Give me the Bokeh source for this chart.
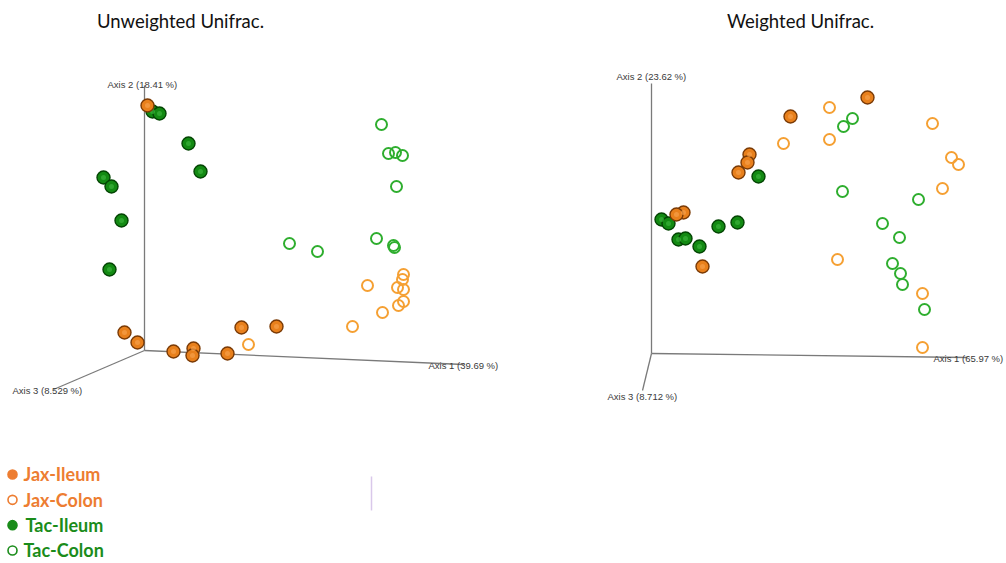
from bokeh.plotting import figure
from bokeh.models import Range1d, ColumnDataSource
from bokeh.layouts import column, row
from bokeh.core.properties import value
from bokeh.embed import file_html
from bokeh.resources import INLINE

# ---------------- data (projected PCoA coordinates, origin = axes origin) ----------------
GROUPS = ["Jax-Ileum", "Jax-Colon", "Tac-Ileum", "Tac-Colon"]

# Unweighted Unifrac
UNW_JAX_ILEUM_X = [3, -20, -7, 29, 49, 48, 83, 97, 132]
UNW_JAX_ILEUM_Y = [245, 18, 8, -1, 2, -5, -3, 23, 24]
UNW_TAC_ILEUM_X = [8, 15, 44, 56, -41, -33, -23, -35]
UNW_TAC_ILEUM_Y = [239, 237, 207, 179, 173, 164, 130, 81]
UNW_TAC_COLON_X = [237, 244, 251, 258, 252, 145, 173, 232, 249, 250]
UNW_TAC_COLON_Y = [226, 197, 198, 195, 164, 107, 99, 112, 105, 103]
UNW_JAX_COLON_X = [259, 258, 223, 253, 259, 259, 254, 238, 208, 104]
UNW_JAX_COLON_Y = [76, 71, 65, 63, 61, 49, 45, 38, 24, 6]
UNW_AXIS_LABELS = ["Axis 1 (39.69 %)", "Axis 2 (18.41 %)", "Axis 3 (8.529 %)"]

# Weighted Unifrac
W_JAX_ILEUM_X = [216, 139, 98, 96, 87, 32, 25, 51]
W_JAX_ILEUM_Y = [256, 237, 199, 191, 181, 141, 139, 87]
W_TAC_ILEUM_X = [107, 10, 17, 27, 34, 48, 67, 86]
W_TAC_ILEUM_Y = [177, 134, 130, 114, 115, 107, 127, 131]
W_JAX_COLON_X = [178, 178, 132, 281, 300, 307, 291, 186, 271, 271]
W_JAX_COLON_Y = [246, 214, 210, 230, 196, 189, 165, 94, 60, 6]
W_TAC_COLON_X = [201, 192, 191, 267, 231, 248, 241, 249, 251, 273]
W_TAC_COLON_Y = [235, 227, 162, 154, 130, 116, 90, 80, 69, 44]
W_AXIS_LABELS = ["Axis 1 (65.97 %)", "Axis 2 (23.62 %)", "Axis 3 (8.712 %)"]

TITLES = ["Unweighted Unifrac.", "Weighted Unifrac."]

# ---------------- styles ----------------
ORANGE_FILL = "#e8801c"
ORANGE_HI = "#f7a04a"
ORANGE_EDGE = "#7a3a05"
GREEN_FILL = "#138a13"
GREEN_HI = "#3cb43c"
GREEN_EDGE = "#034503"
ORANGE_RING = "#f5a033"
GREEN_RING = "#2fae2f"
AXIS_COLOR = "#7a7a7a"
LABEL_COLOR = "#3a3a3a"
LEG_ORANGE = "#ed7d31"
LEG_GREEN = "#1a8c1a"

PANEL_H = 420


def make_panel(width, x_range, y_range, title, title_xy, axis_ends, axis_label_pos, labels,
               ji, jc, ti, tc):
    p = figure(width=width, height=PANEL_H, x_range=Range1d(*x_range), y_range=Range1d(*y_range),
               output_backend="svg", toolbar_location=None,
               x_axis_location=None, y_axis_location=None, min_border=0)
    p.grid.visible = False
    p.outline_line_color = None
    p.background_fill_color = "white"
    p.border_fill_color = "white"

    ex, ey = zip(*axis_ends)
    p.segment(x0=[0, 0, 0], y0=[0, 0, 0], x1=list(ex), y1=list(ey),
              line_color=AXIS_COLOR, line_width=1.3)
    lx, ly = zip(*axis_label_pos)
    p.text(x=list(lx), y=list(ly), text=labels, text_font=value("Liberation Sans"),
           text_font_size="9.5px", text_color=LABEL_COLOR, text_baseline="middle",
           text_align="left")
    p.text(x=[title_xy[0]], y=[title_xy[1]], text=[title], text_font=value("Lato"),
           text_font_size="18.5px", text_color="#111111", text_baseline="middle",
           text_align="center")

    # open circles
    p.scatter(x=tc[0], y=tc[1], size=11, fill_color=None, line_color=GREEN_RING, line_width=2)
    p.scatter(x=jc[0], y=jc[1], size=11, fill_color=None, line_color=ORANGE_RING, line_width=2)
    # filled spheres
    for (xs, ys), fill, hi, edge in [(ti, GREEN_FILL, GREEN_HI, GREEN_EDGE),
                                     (ji, ORANGE_FILL, ORANGE_HI, ORANGE_EDGE)]:
        p.scatter(x=xs, y=ys, size=13, fill_color=fill, line_color=edge, line_width=1.4)
        p.scatter(x=xs, y=ys, size=5, fill_color=hi, line_color=None, fill_alpha=0.7)
    return p


p1 = make_panel(560, (-144, 416), (-70, 350), TITLES[0], (36, 330),
                [(319, -14), (0, 265), (-91, -39)],
                [(284, -15), (-37, 266), (-132, -40)], UNW_AXIS_LABELS,
                (UNW_JAX_ILEUM_X, UNW_JAX_ILEUM_Y), (UNW_JAX_COLON_X, UNW_JAX_COLON_Y),
                (UNW_TAC_ILEUM_X, UNW_TAC_ILEUM_Y), (UNW_TAC_COLON_X, UNW_TAC_COLON_Y))

p2 = make_panel(446, (-91, 355), (-67, 353), TITLES[1], (149, 333),
                [(316, -4), (0, 270), (-9, -37)],
                [(282, -5), (-35, 277), (-44, -43)], W_AXIS_LABELS,
                (W_JAX_ILEUM_X, W_JAX_ILEUM_Y), (W_JAX_COLON_X, W_JAX_COLON_Y),
                (W_TAC_ILEUM_X, W_TAC_ILEUM_Y), (W_TAC_COLON_X, W_TAC_COLON_Y))

# ---------------- legend ----------------
leg = figure(width=1006, height=143, x_range=Range1d(0, 1006), y_range=Range1d(3.514, -2.132),
             output_backend="svg", toolbar_location=None,
             x_axis_location=None, y_axis_location=None, min_border=0)
leg.grid.visible = False
leg.outline_line_color = None

idx = list(range(len(GROUPS)))
leg_colors = [LEG_ORANGE, LEG_ORANGE, LEG_GREEN, LEG_GREEN]
filled = [True, False, True, False]
src = ColumnDataSource(dict(
    y=idx, label=GROUPS, color=leg_colors,
    fill=[c if f else "white" for c, f in zip(leg_colors, filled)],
    x=[12] * 4, tx=[23, 23, 25, 23]))
leg.scatter(x="x", y="y", source=src, size=9, fill_color="fill", line_color="color", line_width=1.6)
leg.text(x="tx", y="y", text="label", source=src, text_color="color",
         text_font=value("Lato"), text_font_style="bold", text_font_size="18px",
         text_baseline="middle", text_align="left")
leg.segment(x0=[371], y0=[0.08], x1=[371], y1=[1.42], line_color="#d9c8ea", line_width=1.5)

layout = column(row(p1, p2, spacing=0), leg, spacing=0)
open("out.html", "w").write(file_html(layout, INLINE))
